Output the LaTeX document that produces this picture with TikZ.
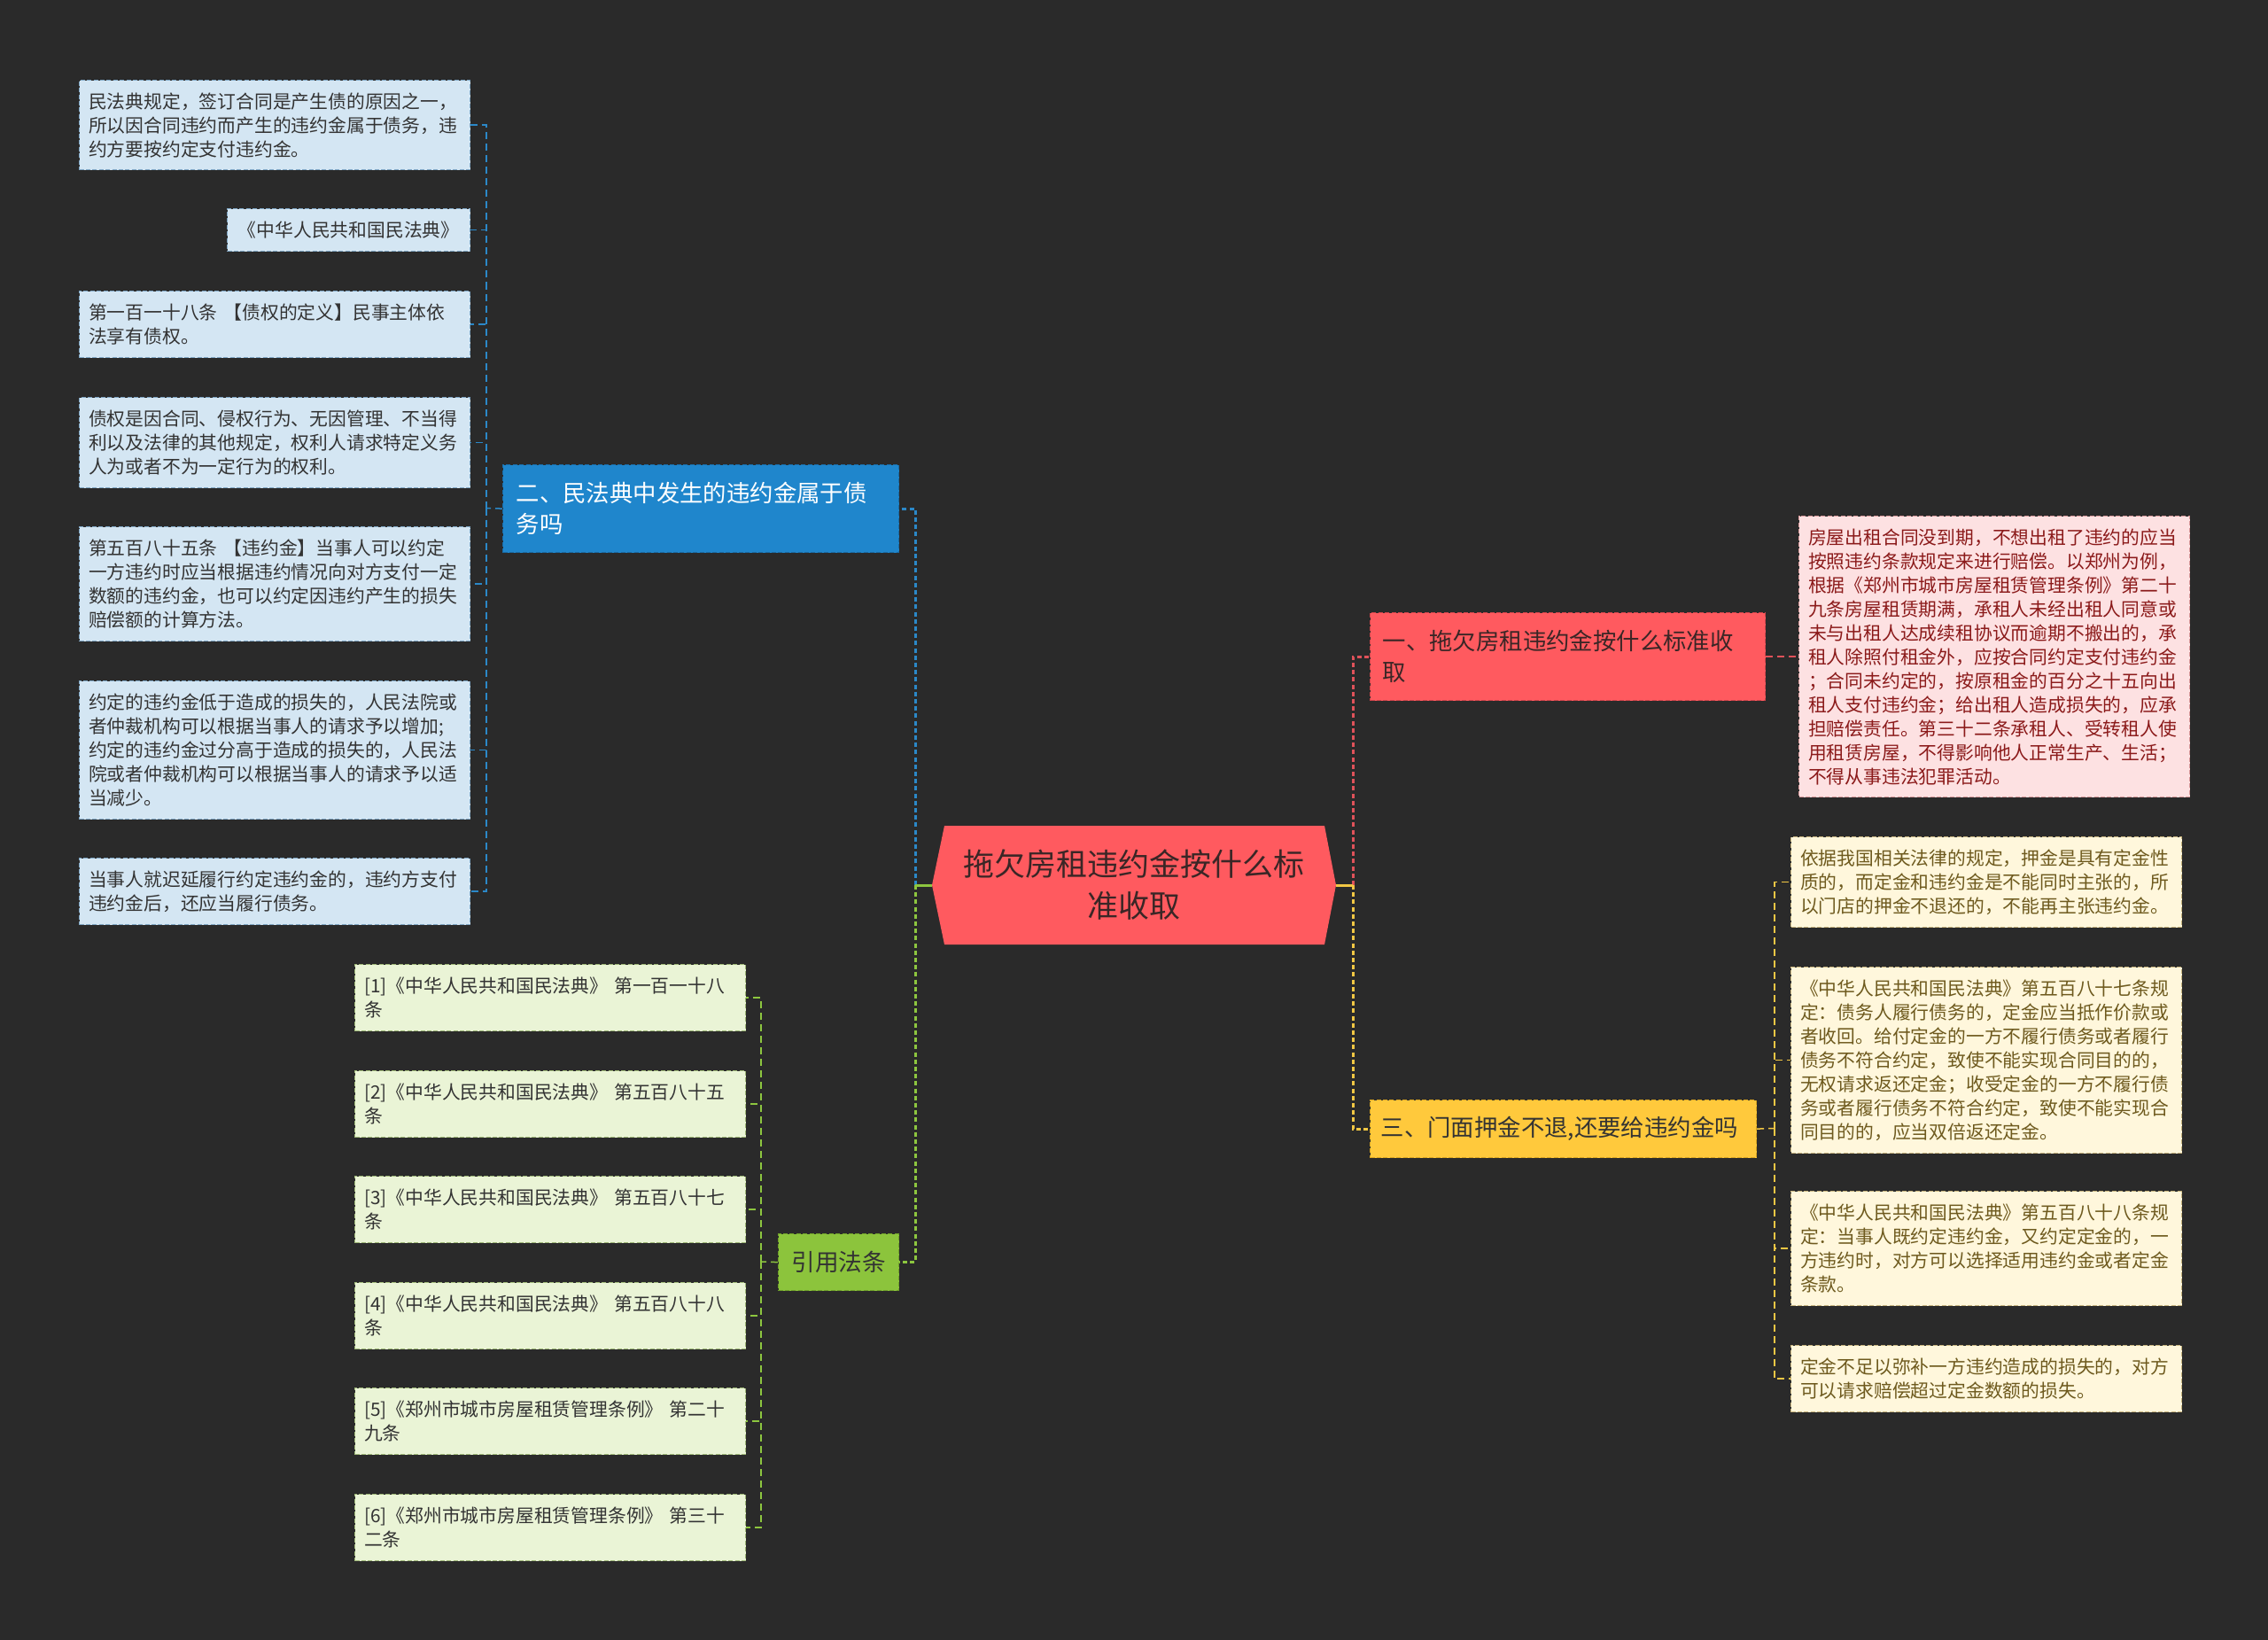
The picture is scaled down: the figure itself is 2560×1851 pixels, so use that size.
\documentclass[tikz,border=0pt]{standalone}
\usepackage{fontspec}
\setmainfont{Noto Sans CJK SC}
\definecolor{bg}{HTML}{2A2A2A}
\definecolor{hubred}{HTML}{FF5A5F}
\definecolor{hubtxt}{HTML}{3A2626}
\definecolor{bluefill}{HTML}{1F86CC}
\definecolor{bluedraw}{HTML}{1A6AA3}
\definecolor{blueline}{HTML}{2B88C8}
\definecolor{lbfill}{HTML}{D4E6F3}
\definecolor{lbdraw}{HTML}{7FA6C4}
\definecolor{greenfill}{HTML}{8CC43C}
\definecolor{greendraw}{HTML}{6FA02A}
\definecolor{greenline}{HTML}{8DC63F}
\definecolor{lgfill}{HTML}{EAF4D6}
\definecolor{lgdraw}{HTML}{9FB878}
\definecolor{reddraw}{HTML}{D0454B}
\definecolor{redline}{HTML}{E0525A}
\definecolor{pinkfill}{HTML}{FDE1E2}
\definecolor{pinkdraw}{HTML}{D99A9C}
\definecolor{pinktxt}{HTML}{8B1A1A}
\definecolor{yelfill}{HTML}{FFC93C}
\definecolor{yeldraw}{HTML}{D9A520}
\definecolor{yelline}{HTML}{F2C744}
\definecolor{creamfill}{HTML}{FFF7DC}
\definecolor{creamdraw}{HTML}{C9B680}
\definecolor{creamtxt}{HTML}{6E5A1E}
\definecolor{darktxt}{HTML}{333333}
\begin{document}
\begin{tikzpicture}[x=0.5pt,y=-0.5pt,
  leaf/.style={anchor=north west, draw, dashed, dash pattern=on 2.5pt off 1.2pt,
    line width=0.6pt, inner xsep=5.25pt, inner ysep=0pt,
    minimum width=220.5pt, text width=210pt, align=left,
    font=\fontsize{10.4pt}{13.5pt}\selectfont},
  lbleaf/.style={leaf, fill=lbfill, draw=lbdraw, text=darktxt},
  lgleaf/.style={leaf, fill=lgfill, draw=lgdraw, text=darktxt, minimum height=37.5pt},
  pinkleaf/.style={leaf, fill=pinkfill, draw=pinkdraw, text=pinktxt},
  creamleaf/.style={leaf, fill=creamfill, draw=creamdraw, text=creamtxt},
  secbox/.style={anchor=north west, draw, dashed, dash pattern=on 2.5pt off 1.2pt,
    line width=0.6pt, inner ysep=0pt, align=left,
    font=\fontsize{13.2pt}{17.5pt}\selectfont},
  mainline/.style={line width=1.5pt, dash pattern=on 2.5pt off 1.6pt},
  stubline/.style={line width=1.5pt},
  childline/.style={line width=0.75pt, dash pattern=on 4pt off 2.5pt}
]
\useasboundingbox[fill=bg] (0,0) rectangle (2560,1851);

% ---------- centre ----------
\fill[hubred] (1052,999) -- (1066,932) -- (1495,932) -- (1508,999) -- (1495,1066) -- (1066,1066) -- cycle;
\node[minimum width=228pt, minimum height=67pt, inner sep=0pt, align=center, text=hubtxt,
  font=\fontsize{17.5pt}{23.5pt}\selectfont] (c) at (1280,999) {拖欠房租违约金按什么标\\准收取};

% ---------- section nodes ----------
\node[secbox, fill=bluefill, draw=bluedraw, text=white, minimum width=223.5pt, minimum height=49.5pt,
  inner xsep=7.5pt, text width=208.5pt] (sec2) at (567,524) {二、民法典中发生的违约金属于债\\务吗};
\node[secbox, fill=greenfill, draw=greendraw, text=darktxt, minimum width=68pt, minimum height=32pt,
  inner xsep=0pt, align=center, font=\fontsize{13.3pt}{17.5pt}\selectfont] (cite) at (878,1392) {引用法条};
\node[secbox, fill=hubred, draw=reddraw, text=hubtxt, minimum width=223pt, minimum height=49.5pt,
  inner xsep=7pt, text width=209pt] (sec1) at (1546,691) {一、拖欠房租违约金按什么标准收\\取};
\node[secbox, fill=yelfill, draw=yeldraw, text=darktxt, minimum width=218pt, minimum height=32.5pt,
  inner xsep=6pt, text width=206pt] (sec3) at (1546,1241) {三、门面押金不退,还要给违约金吗};

% ---------- left blue leaves ----------
\node[lbleaf, minimum height=50.5pt] (L1) at (89,90) {民法典规定，签订合同是产生债的原因之一，\\所以因合同违约而产生的违约金属于债务，违\\约方要按约定支付违约金。};
\node[lbleaf, minimum height=24pt, minimum width=137pt, text width=128pt, inner xsep=4.5pt, align=center] (L2) at (256,235) {《中华人民共和国民法典》};
\node[lbleaf, minimum height=37.5pt] (L3) at (89,328) {第一百一十八条 【债权的定义】民事主体依\\法享有债权。};
\node[lbleaf, minimum height=51pt] (L4) at (89,448) {债权是因合同、侵权行为、无因管理、不当得\\利以及法律的其他规定，权利人请求特定义务\\人为或者不为一定行为的权利。};
\node[lbleaf, minimum height=64.5pt] (L5) at (89,594) {第五百八十五条 【违约金】当事人可以约定\\一方违约时应当根据违约情况向对方支付一定\\数额的违约金，也可以约定因违约产生的损失\\赔偿额的计算方法。};
\node[lbleaf, minimum height=78pt] (L6) at (89,768) {约定的违约金低于造成的损失的，人民法院或\\者仲裁机构可以根据当事人的请求予以增加;\\约定的违约金过分高于造成的损失的，人民法\\院或者仲裁机构可以根据当事人的请求予以适\\当减少。};
\node[lbleaf, minimum height=37.5pt] (L7) at (89,968) {当事人就迟延履行约定违约金的，违约方支付\\违约金后，还应当履行债务。};

% ---------- green leaves ----------
\node[lgleaf] (G1) at (400,1088) {[1]《中华人民共和国民法典》 第一百一十八\\条};
\node[lgleaf] (G2) at (400,1208) {[2]《中华人民共和国民法典》 第五百八十五\\条};
\node[lgleaf] (G3) at (400,1327) {[3]《中华人民共和国民法典》 第五百八十七\\条};
\node[lgleaf] (G4) at (400,1447) {[4]《中华人民共和国民法典》 第五百八十八\\条};
\node[lgleaf] (G5) at (400,1566) {[5]《郑州市城市房屋租赁管理条例》 第二十\\九条};
\node[lgleaf] (G6) at (400,1686) {[6]《郑州市城市房屋租赁管理条例》 第三十\\二条};

% ---------- pink leaf ----------
\node[pinkleaf, minimum height=158.5pt] (P) at (2030,582) {房屋出租合同没到期，不想出租了违约的应当\\按照违约条款规定来进行赔偿。以郑州为例，\\根据《郑州市城市房屋租赁管理条例》第二十\\九条房屋租赁期满，承租人未经出租人同意或\\未与出租人达成续租协议而逾期不搬出的，承\\租人除照付租金外，应按合同约定支付违约金\\；合同未约定的，按原租金的百分之十五向出\\租人支付违约金；给出租人造成损失的，应承\\担赔偿责任。第三十二条承租人、受转租人使\\用租赁房屋，不得影响他人正常生产、生活；\\不得从事违法犯罪活动。};

% ---------- cream leaves ----------
\node[creamleaf, minimum height=51pt] (Y1) at (2021,944) {依据我国相关法律的规定，押金是具有定金性\\质的，而定金和违约金是不能同时主张的，所\\以门店的押金不退还的，不能再主张违约金。};
\node[creamleaf, minimum height=105pt] (Y2) at (2021,1091) {《中华人民共和国民法典》第五百八十七条规\\定：债务人履行债务的，定金应当抵作价款或\\者收回。给付定金的一方不履行债务或者履行\\债务不符合约定，致使不能实现合同目的的，\\无权请求返还定金；收受定金的一方不履行债\\务或者履行债务不符合约定，致使不能实现合\\同目的的，应当双倍返还定金。};
\node[creamleaf, minimum height=64.5pt] (Y3) at (2021,1344) {《中华人民共和国民法典》第五百八十八条规\\定：当事人既约定违约金，又约定定金的，一\\方违约时，对方可以选择适用违约金或者定金\\条款。};
\node[creamleaf, minimum height=37.5pt] (Y4) at (2021,1518) {定金不足以弥补一方违约造成的损失的，对方\\可以请求赔偿超过定金数额的损失。};

% ---------- junctions ----------
\coordinate (jl) at (1033,999);
\coordinate (jr) at (1527,999);
\coordinate (jb) at (549,573.5);
\coordinate (jg) at (859,1424);
\coordinate (jy) at (2003,1273.5);

% ---------- main connectors ----------
\draw[mainline, blueline] (jl) |- (sec2.east);
\draw[mainline, greenline] (jl) |- (cite.east);
\draw[stubline, greenline] (c.west) -- (jl);
\draw[mainline, redline] (jr) |- (sec1.west);
\draw[mainline, yelline] (jr) |- (sec3.west);
\draw[stubline, yelline] (c.east) -- (jr);

% ---------- child connectors ----------
\draw[childline, blueline] (sec2.west) -- (jb);
\foreach \i in {1,...,7} \draw[childline, blueline] (jb) |- (L\i.east);
\draw[childline, greenline] (cite.west) -- (jg);
\foreach \i in {1,...,6} \draw[childline, greenline] (jg) |- (G\i.east);
\draw[childline, redline] (sec1.east) -- (P.west);
\draw[childline, yelline] (sec3.east) -- (jy);
\foreach \i in {1,...,4} \draw[childline, yelline] (jy) |- (Y\i.west);
\end{tikzpicture}
\end{document}
